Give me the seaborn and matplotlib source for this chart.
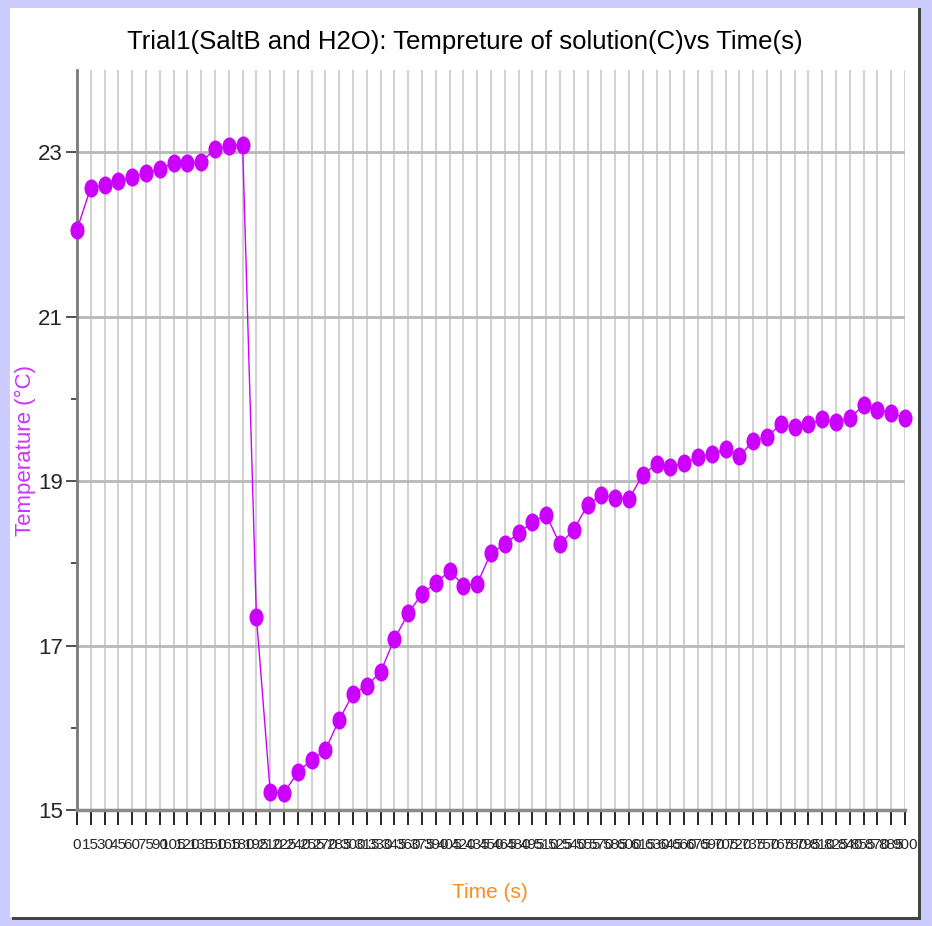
import matplotlib
matplotlib.use("Agg")
import matplotlib.pyplot as plt
import seaborn as sns
import numpy as np
from matplotlib.path import Path
from matplotlib.patches import Rectangle
from matplotlib.ticker import FixedLocator

# ---- data ----
time_s = [0, 15, 30, 45, 60, 75, 90, 105, 120, 135, 150, 165, 180, 195, 210,
          225, 240, 255, 270, 285, 300, 315, 330, 345, 360, 375, 390, 405, 420,
          435, 450, 465, 480, 495, 510, 525, 540, 555, 570, 585, 600, 615, 630,
          645, 660, 675, 690, 705, 720, 735, 750, 765, 780, 795, 810, 825, 840,
          855, 870, 885, 900]
temperature_c = [22.06, 22.57, 22.60, 22.65, 22.70, 22.75, 22.80, 22.87, 22.87,
                 22.88, 23.04, 23.07, 23.09, 17.35, 15.22, 15.21, 15.46, 15.61,
                 15.73, 16.10, 16.41, 16.51, 16.68, 17.08, 17.39, 17.63, 17.76,
                 17.91, 17.73, 17.75, 18.13, 18.23, 18.37, 18.50, 18.59, 18.23,
                 18.41, 18.71, 18.83, 18.80, 18.78, 19.08, 19.21, 19.17, 19.22,
                 19.29, 19.33, 19.39, 19.30, 19.49, 19.54, 19.69, 19.66, 19.69,
                 19.75, 19.72, 19.77, 19.92, 19.87, 19.83, 19.77]
x_tick_labels = [str(t) for t in time_s]
y_major_ticks = [15, 17, 19, 21, 23]
y_minor_ticks = [16, 18, 20, 22]
title = "Trial1(SaltB and H2O): Tempreture of solution(C)vs Time(s)"
x_label = "Time (s)"
y_label = "Temperature (°C)"

W, H = 932, 926
sns.set_style("white")
plt.rcParams["font.family"] = ["Liberation Sans", "DejaVu Sans"]

fig = plt.figure(figsize=(W / 100, H / 100), dpi=100, facecolor="#ccccff")

# white inner panel with dark shadow edge on right/bottom
fig.add_artist(Rectangle((12 / W, 1 - 920 / H), (921 - 12) / W, (920 - 8) / H,
                         transform=fig.transFigure, facecolor="#444444",
                         edgecolor="none", zorder=-2))
fig.add_artist(Rectangle((10 / W, 1 - 917 / H), (918 - 10) / W, (917 - 8) / H,
                         transform=fig.transFigure, facecolor="white",
                         edgecolor="none", zorder=-1))

left, right, top, bottom = 77, 905, 70, 810
ax = fig.add_axes([left / W, 1 - bottom / H, (right - left) / W, (bottom - top) / H])
ax.set_zorder(2)
ax.set_facecolor("white")

# slightly tall elliptical marker
circ = Path.unit_circle()
ell = Path(circ.vertices * np.array([0.78, 1.0]), circ.codes)

sns.lineplot(x=time_s, y=temperature_c, ax=ax, color="#cc00ff", linewidth=1.0,
             marker=ell, markersize=13, markeredgewidth=0, markerfacecolor="#cc00ff",
             errorbar=None, clip_on=False, zorder=5)

ax.set_xlim(0, 900)
ax.set_ylim(15, 24)

ax.set_xticks(time_s)
ax.set_xticklabels(x_tick_labels)
ax.yaxis.set_major_locator(FixedLocator(y_major_ticks))
ax.yaxis.set_minor_locator(FixedLocator(y_minor_ticks))
ax.set_yticklabels([str(v) for v in y_major_ticks])

ax.set_axisbelow(True)
ax.grid(axis="x", color="#d2d2d2", linewidth=1.5)
ax.grid(axis="y", which="major", color="#b8b8b8", linewidth=2.0)

for s in ["top", "right"]:
    ax.spines[s].set_visible(False)
ax.spines["left"].set_color("#7a7a7a")
ax.spines["left"].set_linewidth(2)
ax.spines["bottom"].set_color("#8a8a8a")
ax.spines["bottom"].set_linewidth(2.5)

ax.tick_params(axis="x", direction="out", length=11, width=1.2, color="black",
               labelsize=11, pad=9, bottom=True)
ax.tick_params(axis="y", which="major", direction="out", length=8, width=1.2,
               color="#333333", labelsize=16, pad=2, left=True)
ax.tick_params(axis="y", which="minor", direction="out", length=4, width=1.2,
               color="#333333", left=True)

ax.set_xlabel(x_label, color="#ff8c1a", fontsize=15)
ax.xaxis.set_label_coords((490 - left) / (right - left), -(893 - bottom) / (bottom - top))
ax.set_ylabel(y_label, color="#cc33ff", fontsize=16)
ax.yaxis.set_label_coords(-(left - 25) / (right - left), (bottom - 450) / (bottom - top))
for lbl in [ax.xaxis.label, ax.yaxis.label]:
    lbl.set_verticalalignment("center")

fig.text(465 / W, 1 - 42 / H, title, ha="center", va="center", fontsize=18.5,
         color="black")

fig.savefig("out.png", dpi=100, facecolor=fig.get_facecolor())
